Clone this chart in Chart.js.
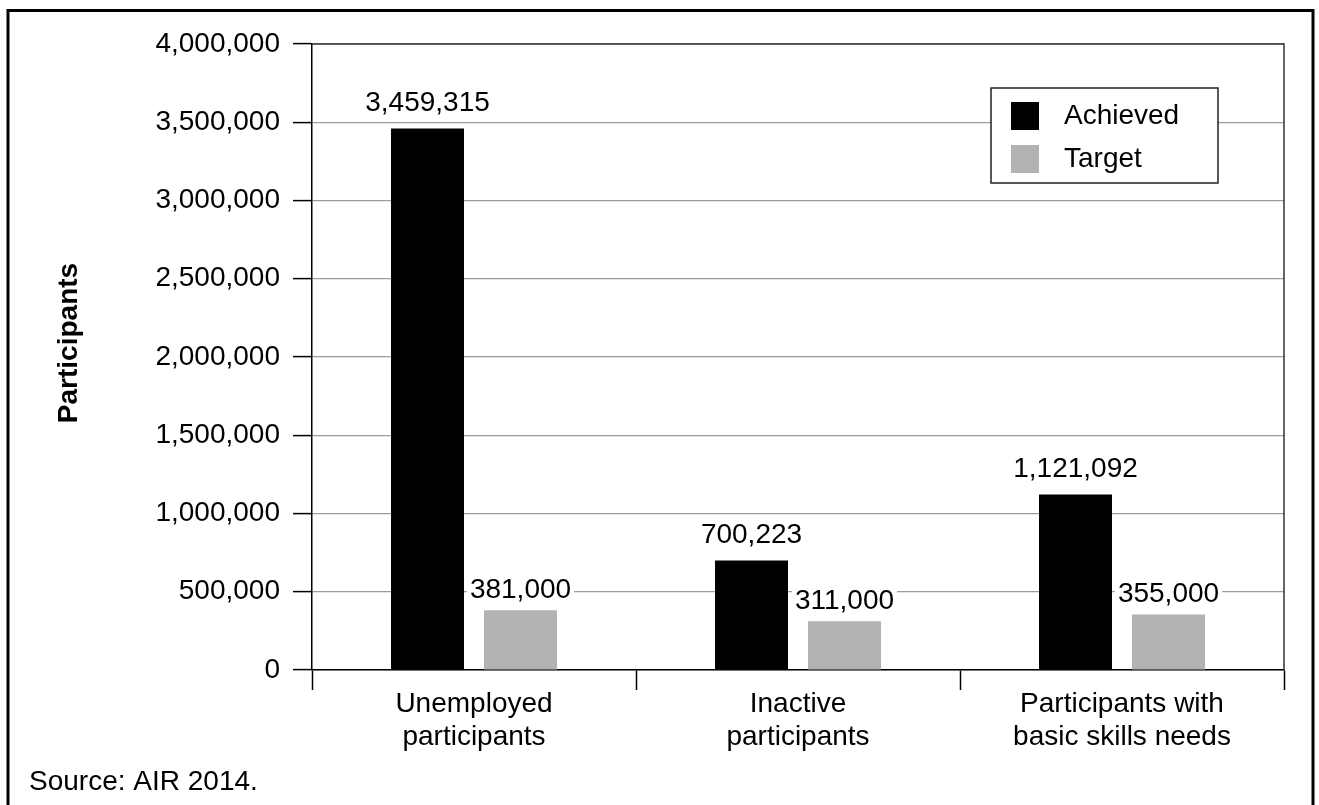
<!DOCTYPE html>
<html>
<head>
<meta charset="utf-8">
<script src="https://cdn.jsdelivr.net/npm/chart.js@4"></script>
<style>
  html, body { margin: 0; padding: 0; background: #fff; }
  #wrap { width: 1319px; height: 805px; position: relative; }
</style>
</head>
<body>
<div id="wrap"><canvas id="c" width="1319" height="805"></canvas></div>
<script>
// Participants by group: achieved vs. target
const categories = [
  ['Unemployed', 'participants'],
  ['Inactive', 'participants'],
  ['Participants with', 'basic skills needs']
];
const seriesNames = ['Achieved', 'Target'];
const achieved = [3459315, 700223, 1121092];
const target = [381000, 311000, 355000];
const yAxisTitle = 'Participants';
const sourceNote = 'Source: AIR 2014.';

const FONT = "'Liberation Sans', Arial, Helvetica, sans-serif";
const fmt = v => Number(v).toLocaleString('en-US');

// Outer frame, plot frame, axis title, source note and legend box
const decorations = {
  id: 'decorations',
  beforeDraw(chart) {
    const ctx = chart.ctx;
    ctx.save();
    ctx.fillStyle = '#fff';
    ctx.fillRect(0, 0, chart.width, chart.height);
    ctx.restore();
  },
  afterDraw(chart) {
    const ctx = chart.ctx;
    const a = chart.chartArea;
    ctx.save();
    // plot frame: top and right edges
    ctx.strokeStyle = '#333';
    ctx.lineWidth = 1.5;
    ctx.beginPath();
    ctx.moveTo(a.left, a.top);
    ctx.lineTo(a.right, a.top);
    ctx.lineTo(a.right, a.bottom);
    ctx.stroke();

    // outer frame
    ctx.strokeStyle = '#000';
    ctx.lineWidth = 3;
    ctx.strokeRect(8, 10.5, 1305, 830);

    // y axis title
    ctx.fillStyle = '#000';
    ctx.font = 'bold 28px ' + FONT;
    ctx.textAlign = 'center';
    ctx.textBaseline = 'middle';
    ctx.translate(69, 343);
    ctx.rotate(-Math.PI / 2);
    ctx.fillText(yAxisTitle, 0, 0);
    ctx.setTransform(1, 0, 0, 1, 0, 0);

    // source note
    ctx.font = '28px ' + FONT;
    ctx.textAlign = 'left';
    ctx.fillText(sourceNote, 29, 782);

    // legend
    const lx = 991, ly = 88, lw = 227, lh = 95;
    ctx.fillStyle = '#fff';
    ctx.fillRect(lx, ly, lw, lh);
    ctx.strokeStyle = '#222';
    ctx.lineWidth = 1.5;
    ctx.strokeRect(lx, ly, lw, lh);
    chart.data.datasets.forEach((ds, i) => {
      const rowY = ly + 28 + i * 43;
      ctx.fillStyle = ds.backgroundColor;
      ctx.fillRect(lx + 20, rowY - 14, 28, 28);
      ctx.fillStyle = '#000';
      ctx.font = '28px ' + FONT;
      ctx.textAlign = 'left';
      ctx.textBaseline = 'middle';
      ctx.fillText(ds.label, lx + 73, rowY);
    });
    ctx.restore();
  }
};

// Value labels above each bar
const valueLabels = {
  id: 'valueLabels',
  afterDatasetsDraw(chart) {
    const ctx = chart.ctx;
    ctx.save();
    ctx.font = '28px ' + FONT;
    ctx.textAlign = 'center';
    ctx.textBaseline = 'middle';
    chart.data.datasets.forEach((ds, di) => {
      const meta = chart.getDatasetMeta(di);
      meta.data.forEach((bar, i) => {
        const text = fmt(ds.data[i]);
        const y = bar.y - ds.labelOffset;
        if (ds.labelBackground) {
          const w = ctx.measureText(text).width;
          ctx.fillStyle = '#fff';
          ctx.fillRect(bar.x - w / 2 - 3, y - 14, w + 6, 28);
        }
        ctx.fillStyle = '#000';
        ctx.fillText(text, bar.x, y);
      });
    });
    ctx.restore();
  }
};

new Chart(document.getElementById('c'), {
  type: 'bar',
  data: {
    labels: categories,
    datasets: [
      {
        label: seriesNames[0],
        data: achieved,
        backgroundColor: '#000000',
        labelOffset: 25,
        labelBackground: false,
        categoryPercentage: 0.574,
        barPercentage: 0.785
      },
      {
        label: seriesNames[1],
        data: target,
        backgroundColor: '#b3b3b4',
        labelOffset: 20,
        labelBackground: true,
        categoryPercentage: 0.574,
        barPercentage: 0.785
      }
    ]
  },
  options: {
    responsive: false,
    animation: false,
    devicePixelRatio: 1,
    layout: { padding: { top: 44, right: 35, bottom: 0, left: 0 } },
    plugins: {
      legend: { display: false },
      tooltip: { enabled: false },
      title: { display: false }
    },
    scales: {
      x: {
        afterFit(scale) { scale.height = 135; },
        grid: {
          offset: true,
          drawOnChartArea: false,
          drawTicks: true,
          tickLength: 20,
          tickColor: '#000',
          tickWidth: 1.5
        },
        border: { display: true, color: '#000', width: 1.5 },
        ticks: {
          color: '#000',
          padding: -3,
          maxRotation: 0,
          autoSkip: false,
          font: { family: FONT, size: 28, lineHeight: 1.2 }
        }
      },
      y: {
        min: 0,
        max: 4000000,
        afterFit(scale) { scale.width = 312; },
        grid: {
          color: '#9c9c9c',
          lineWidth: 1.2,
          drawTicks: true,
          tickLength: 19,
          tickColor: '#000',
          tickWidth: 1.5
        },
        border: { display: true, color: '#000', width: 1.5 },
        ticks: {
          stepSize: 500000,
          color: '#000',
          padding: 13,
          font: { family: FONT, size: 28 },
          callback: v => fmt(v)
        }
      }
    }
  },
  plugins: [decorations, valueLabels]
});
</script>
</body>
</html>
